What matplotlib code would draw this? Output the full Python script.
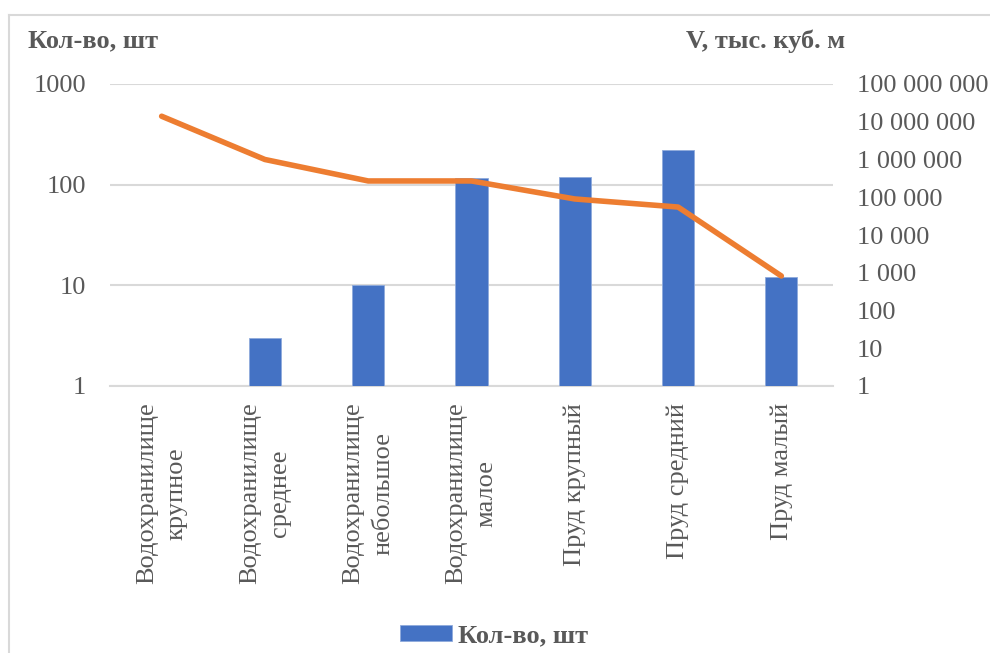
import matplotlib.pyplot as plt
import numpy as np
from matplotlib.ticker import FixedLocator, FuncFormatter
from matplotlib.lines import Line2D

plt.rcParams['font.family'] = ['Liberation Serif', 'DejaVu Serif']

categories = ['Водохранилище\nкрупное', 'Водохранилище\nсреднее', 'Водохранилище\nнебольшое',
              'Водохранилище\nмалое', 'Пруд крупный', 'Пруд средний', 'Пруд малый']
counts = [1, 3, 10, 116, 118, 222, 12]                      # Кол-во, шт
volumes = [14000000, 1000000, 270000, 270000, 90000, 55000, 820]  # V, тыс. куб. м

left_ticks = [1, 10, 100, 1000]
right_ticks = [10 ** i for i in range(9)]

txt = '#595959'
grid = '#D9D9D9'
fs = 19

fig = plt.figure(figsize=(9.9, 6.53), dpi=100)
W, H = 990, 653
ax = fig.add_axes([110 / W, 1 - 386 / H, (833 - 110) / W, (386 - 84) / H])
ax2 = ax.twinx()

x = np.arange(len(categories))
ax.bar(x, [c - 1 for c in counts], bottom=1, width=0.31, color='#4472C4',
       edgecolor='#8FAADC', linewidth=0.6, label='Кол-во, шт', zorder=3)
ax.set_yscale('log')
ax.set_ylim(1, 1000)
ax.set_xlim(-0.5, len(categories) - 0.5)
ax.yaxis.set_major_locator(FixedLocator(left_ticks))
ax.yaxis.set_minor_locator(FixedLocator([]))
ax.yaxis.set_major_formatter(FuncFormatter(lambda v, p: f'{v:.0f}'))
ax.grid(axis='y', color=grid, linewidth=1.5, zorder=0)
ax.set_axisbelow(True)
ax.set_xticks(x)
ax.set_xticklabels(categories, rotation=90, va='top', ha='center',
                   multialignment='center', linespacing=1.45, fontsize=fs, color=txt)
ax.tick_params(axis='x', length=0, pad=12)
ax.tick_params(axis='y', length=0, pad=17, labelsize=fs, labelcolor=txt)
for s in ax.spines.values():
    s.set_visible(False)
ax.spines['bottom'].set_visible(True)
ax.spines['bottom'].set_color(grid)
ax.spines['bottom'].set_linewidth(1.5)

ax2.plot(x, volumes, color='#ED7D31', linewidth=4, solid_capstyle='round',
         solid_joinstyle='round', zorder=4)
ax2.set_yscale('log')
ax2.set_ylim(1, 1e8)
ax2.yaxis.set_major_locator(FixedLocator(right_ticks))
ax2.yaxis.set_minor_locator(FixedLocator([]))
ax2.yaxis.set_major_formatter(FuncFormatter(lambda v, p: f'{v:,.0f}'.replace(',', ' ')))
ax2.tick_params(axis='y', length=0, pad=17, labelsize=fs, labelcolor=txt)
for s in ax2.spines.values():
    s.set_visible(False)

fig.text(28 / W, 1 - 41 / H, 'Кол-во, шт', fontsize=fs, fontweight='bold',
         color=txt, ha='left', va='center')
fig.text(845 / W, 1 - 41 / H, 'V, тыс. куб. м', fontsize=fs, fontweight='bold',
         color=txt, ha='right', va='center')

leg = fig.legend(loc='center', bbox_to_anchor=(494 / W, 1 - 636 / H), frameon=False,
                 handlelength=1.97, handleheight=0.55, handletextpad=0.2,
                 prop={'size': fs, 'weight': 'bold'})
for t in leg.get_texts():
    t.set_color(txt)

# outer chart border
fig.add_artist(Line2D([8.5 / W, 8.5 / W], [0, 1 - 15 / H], transform=fig.transFigure,
                      color=grid, linewidth=1.5))
fig.add_artist(Line2D([8.5 / W, 1], [1 - 15 / H, 1 - 15 / H], transform=fig.transFigure,
                      color=grid, linewidth=1.5))

fig.savefig('out.png', dpi=100)
